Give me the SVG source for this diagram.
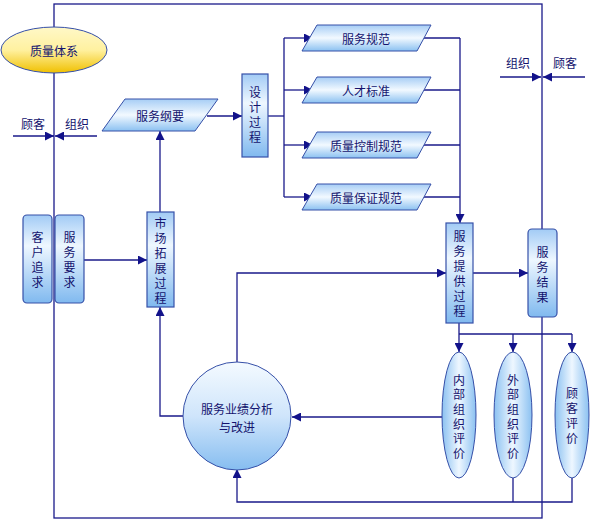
<svg xmlns="http://www.w3.org/2000/svg" width="590" height="522" viewBox="0 0 590 522">
<defs>
<linearGradient id="gBox" x1="0" y1="0" x2="0" y2="1">
<stop offset="0" stop-color="#a2cbf5"/>
<stop offset="0.35" stop-color="#eef7ff"/>
<stop offset="1" stop-color="#80b9ef"/>
</linearGradient>
<linearGradient id="gPara" x1="0" y1="0" x2="0" y2="1">
<stop offset="0" stop-color="#a6cdf5"/>
<stop offset="0.5" stop-color="#f2f9ff"/>
<stop offset="1" stop-color="#8bc1f1"/>
</linearGradient>
<linearGradient id="gCirc" x1="0" y1="0" x2="0" y2="1">
<stop offset="0" stop-color="#f4faff"/>
<stop offset="0.5" stop-color="#cfe5fb"/>
<stop offset="1" stop-color="#86bdf0"/>
</linearGradient>
<linearGradient id="gEll" x1="0" y1="0" x2="1" y2="0">
<stop offset="0" stop-color="#8bc1f1"/>
<stop offset="0.5" stop-color="#eef7ff"/>
<stop offset="1" stop-color="#8bc1f1"/>
</linearGradient>
<linearGradient id="gYel" x1="0" y1="0" x2="0" y2="1">
<stop offset="0" stop-color="#fff8c8"/>
<stop offset="0.5" stop-color="#fff1a0"/>
<stop offset="1" stop-color="#f0c000"/>
</linearGradient>
<marker id="ah" viewBox="0 0 10 10" refX="10" refY="5" markerWidth="9" markerHeight="9" markerUnits="userSpaceOnUse" orient="auto">
<path d="M0,0 L10,5 L0,10 z" fill="#12128a"/>
</marker>
<style>
.ln{fill:none;stroke:#1a1a8a;stroke-width:1.3}
.bx{fill:url(#gBox);stroke:#3650a8;stroke-width:1.2}
.pa{fill:url(#gPara);stroke:#3650a8;stroke-width:1}
.ci{fill:url(#gCirc);stroke:#3650a8;stroke-width:1}
.el{fill:url(#gEll);stroke:#3650a8;stroke-width:1}
.t{font-family:"Noto Sans CJK SC","Liberation Sans",sans-serif;font-size:12px;fill:#14146e;text-anchor:middle;dominant-baseline:central}
.v{font-family:"Noto Sans CJK SC","Liberation Sans",sans-serif;font-size:12px;fill:#14146e;text-anchor:middle;writing-mode:vertical-rl;letter-spacing:3px}
</style>
</defs>
<rect width="590" height="522" fill="#ffffff"/>

<g id="connectors">
<rect x="54" y="4" width="488" height="514" class="ln"/>
<line x1="13" y1="136" x2="54" y2="136" class="ln" marker-end="url(#ah)"/>
<line x1="97" y1="136" x2="55" y2="136" class="ln" marker-end="url(#ah)"/>
<line x1="500" y1="77" x2="541" y2="77" class="ln" marker-end="url(#ah)"/>
<line x1="585" y1="77" x2="543" y2="77" class="ln" marker-end="url(#ah)"/>
<line x1="207" y1="116" x2="242" y2="116" class="ln" marker-end="url(#ah)"/>
<line x1="268" y1="116" x2="284" y2="116" class="ln"/>
<line x1="284" y1="38" x2="284" y2="197" class="ln"/>
<line x1="284" y1="38" x2="313" y2="38" class="ln" marker-end="url(#ah)"/>
<line x1="284" y1="90" x2="313" y2="90" class="ln" marker-end="url(#ah)"/>
<line x1="284" y1="145" x2="313" y2="145" class="ln" marker-end="url(#ah)"/>
<line x1="284" y1="197" x2="313" y2="197" class="ln" marker-end="url(#ah)"/>
<line x1="418" y1="38" x2="460" y2="38" class="ln"/>
<line x1="418" y1="90" x2="460" y2="90" class="ln"/>
<line x1="418" y1="145" x2="460" y2="145" class="ln"/>
<line x1="418" y1="197" x2="460" y2="197" class="ln"/>
<line x1="460" y1="38" x2="460" y2="223" class="ln" marker-end="url(#ah)"/>
<line x1="84" y1="260" x2="147" y2="260" class="ln" marker-end="url(#ah)"/>
<line x1="160" y1="212" x2="160" y2="131" class="ln" marker-end="url(#ah)"/>
<polyline points="183,416 160,416 160,307" class="ln" marker-end="url(#ah)"/>
<polyline points="237,363 237,273 446,273" class="ln" marker-end="url(#ah)"/>
<line x1="473" y1="273" x2="528" y2="273" class="ln" marker-end="url(#ah)"/>
<line x1="459" y1="323" x2="459" y2="352" class="ln" marker-end="url(#ah)"/>
<line x1="459" y1="334" x2="572" y2="334" class="ln"/>
<line x1="513" y1="334" x2="513" y2="352" class="ln" marker-end="url(#ah)"/>
<line x1="572" y1="334" x2="572" y2="352" class="ln" marker-end="url(#ah)"/>
<line x1="442" y1="417" x2="292" y2="417" class="ln" marker-end="url(#ah)"/>
<polyline points="513,478 513,502" class="ln"/>
<polyline points="572,478 572,502 237,502 237,469" class="ln" marker-end="url(#ah)"/>
</g>

<g id="node-quality-system">
<ellipse cx="54" cy="50" rx="53" ry="23" fill="url(#gYel)" stroke="#3650a8" stroke-width="1"/>
<text class="t" x="54" y="50">质量体系</text>
</g>

<g id="labels-left">
<text class="t" x="33" y="123">顾客</text>
<text class="t" x="77" y="123">组织</text>
</g>
<g id="labels-right">
<text class="t" x="518" y="62">组织</text>
<text class="t" x="565" y="62">顾客</text>
</g>

<g id="node-service-outline">
<polygon points="125,99 218,99 195,131 102,131" class="pa"/>
<text class="t" x="160" y="115">服务纲要</text>
</g>

<g id="node-design">
<rect x="242" y="74" width="26" height="83" class="bx"/>
<text class="v" x="255" y="116">设计过程</text>
</g>

<g id="node-spec1">
<polygon points="317,25 431,25 417,51 302,51" class="pa"/>
<text class="t" x="366" y="38">服务规范</text>
</g>
<g id="node-spec2">
<polygon points="317,77 431,77 417,103 302,103" class="pa"/>
<text class="t" x="366" y="90">人才标准</text>
</g>
<g id="node-spec3">
<polygon points="317,132 431,132 417,158 302,158" class="pa"/>
<text class="t" x="366" y="145">质量控制规范</text>
</g>
<g id="node-spec4">
<polygon points="317,184 431,184 417,210 302,210" class="pa"/>
<text class="t" x="366" y="197">质量保证规范</text>
</g>

<g id="node-customer-pursuit">
<rect x="23" y="215" width="29" height="88" rx="4" class="bx"/>
<text class="v" x="37.5" y="261">客户追求</text>
</g>
<g id="node-service-req">
<rect x="55" y="215" width="29" height="88" rx="4" class="bx"/>
<text class="v" x="69.5" y="261">服务要求</text>
</g>

<g id="node-market">
<rect x="147" y="212" width="27" height="95" class="bx"/>
<text class="v" x="160.5" y="262">市场拓展过程</text>
</g>

<g id="node-delivery">
<rect x="446" y="223" width="27" height="100" class="bx"/>
<text class="v" x="459.5" y="275">服务提供过程</text>
</g>

<g id="node-result">
<rect x="528" y="229" width="29" height="88" rx="4" class="bx"/>
<text class="v" x="542.5" y="276">服务结果</text>
</g>

<g id="node-analysis">
<circle cx="237" cy="416" r="54" class="ci"/>
<text class="t" x="237" y="408">服务业绩分析</text>
<text class="t" x="237" y="426">与改进</text>
</g>

<g id="node-internal-eval">
<ellipse cx="459" cy="415" rx="17" ry="63" class="el"/>
<text class="v" x="459" y="418" style="letter-spacing:2.6px">内部组织评价</text>
</g>
<g id="node-external-eval">
<ellipse cx="513" cy="415" rx="19" ry="63" class="el"/>
<text class="v" x="513" y="418" style="letter-spacing:2.6px">外部组织评价</text>
</g>
<g id="node-customer-eval">
<ellipse cx="572" cy="415" rx="17" ry="63" class="el"/>
<text class="v" x="572" y="417">顾客评价</text>
</g>
</svg>
